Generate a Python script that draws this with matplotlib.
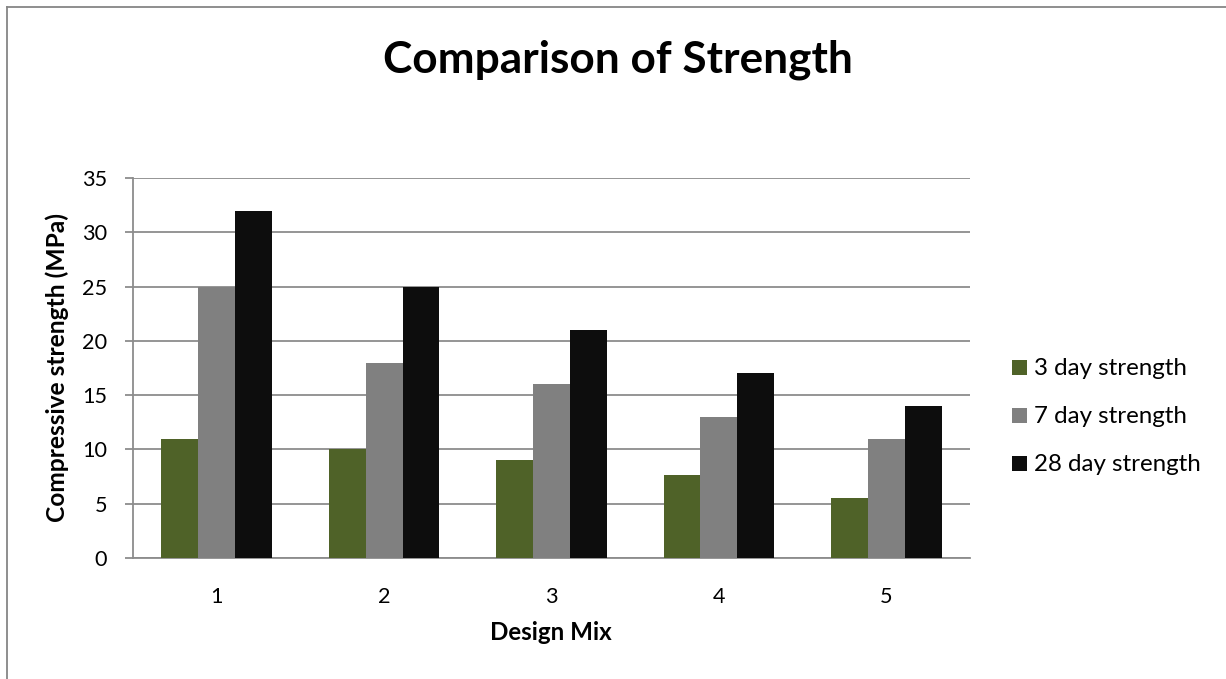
import matplotlib
matplotlib.use("Agg")
import matplotlib.pyplot as plt
from matplotlib.lines import Line2D
from matplotlib.patches import Rectangle
import numpy as np

# Compressive strength results (MPa) for each design mix
mixes = ["1", "2", "3", "4", "5"]
strength_3day = [11, 10, 9, 7.6, 5.5]
strength_7day = [25, 18, 16, 13, 11]
strength_28day = [32, 25, 21, 17, 14]
series_names = ["3 day strength", "7 day strength", "28 day strength"]
series_colors = ["#4F6228", "#808080", "#0D0D0D"]

plt.rcParams["font.family"] = ["Lato", "DejaVu Sans"]

W, H = 1226, 679
fig = plt.figure(figsize=(W / 100, H / 100), dpi=100)
fig.patch.set_facecolor("white")
renderer = fig.canvas.get_renderer()


def px(x, y):
    """Pixel position (from top-left) to figure fraction."""
    return x / W, 1 - y / H


def fit_width(artist, target):
    """Scale an artist's font so its longest side spans `target` pixels."""
    bb = artist.get_window_extent(renderer)
    artist.set_fontsize(artist.get_fontsize() * target / max(bb.width, bb.height))


def size_for(text, target, **kw):
    t = fig.text(0, 0, text, fontsize=20, **kw)
    fit_width(t, target)
    fs = t.get_fontsize()
    t.remove()
    return fs


# chart frame (top and left edges of the chart area)
frame_col = "#868686"
fig.add_artist(Line2D([7 / W, 7 / W], [0, 1 - 7 / H], transform=fig.transFigure,
                      color=frame_col, lw=1.3))
fig.add_artist(Line2D([7 / W, 1], [1 - 7 / H, 1 - 7 / H], transform=fig.transFigure,
                      color=frame_col, lw=1.3))

left, right, top, bottom = 133, 970, 178, 558
ax = fig.add_axes([left / W, 1 - bottom / H, (right - left) / W, (bottom - top) / H])

x = np.arange(len(mixes))
bw = 0.22
all_series = [strength_3day, strength_7day, strength_28day]
for i, (vals, name, col) in enumerate(zip(all_series, series_names, series_colors)):
    ax.bar(x + (i - 1) * bw, vals, width=bw, color=col, label=name, zorder=3)

ax.set_xlim(-0.5, len(mixes) - 0.5)
ax.set_ylim(0, 35)
ax.set_yticks(range(0, 36, 5))
ax.set_xticks(x)
ax.set_xticklabels(mixes)

grid_col = "#8C8C8C"
ax.yaxis.grid(True, color=grid_col, lw=1.3, zorder=0)
ax.set_axisbelow(True)
for s in ["top", "right"]:
    ax.spines[s].set_visible(False)
for s in ["left", "bottom"]:
    ax.spines[s].set_color(grid_col)
    ax.spines[s].set_linewidth(1.3)

tick_fs = size_for("35", 25)
ax.tick_params(axis="y", length=5.8, width=1.3, color=grid_col, labelsize=tick_fs, pad=13)
ax.tick_params(axis="x", length=0, labelsize=tick_fs, pad=21)

title = fig.text(*px(618, 73), "Comparison of Strength", ha="center", va="baseline",
                 fontsize=30, fontweight="bold")
fit_width(title, 468)

ylab = fig.text(*px(57, 368), "Compressive strength (MPa)", ha="center", va="center",
                rotation=90, fontsize=16, fontweight="bold")
fit_width(ylab, 310)

xlab = fig.text(*px(551, 640), "Design Mix", ha="center", va="baseline",
                fontsize=16, fontweight="bold")
fit_width(xlab, 122)

# legend entries, drawn from the series names and colours
leg_fs = size_for(series_names[-1], 167)
row_centers = [367, 415, 463]
for name, col, yc in zip(series_names, series_colors, row_centers):
    x0, y0 = px(1012, yc + 7.5)
    fig.add_artist(Rectangle((x0, y0), 15 / W, 15 / H, transform=fig.transFigure,
                             facecolor=col, edgecolor="none"))
    fig.text(*px(1034, yc + 8), name, ha="left", va="baseline", fontsize=leg_fs)

fig.savefig("out.png", dpi=100)
